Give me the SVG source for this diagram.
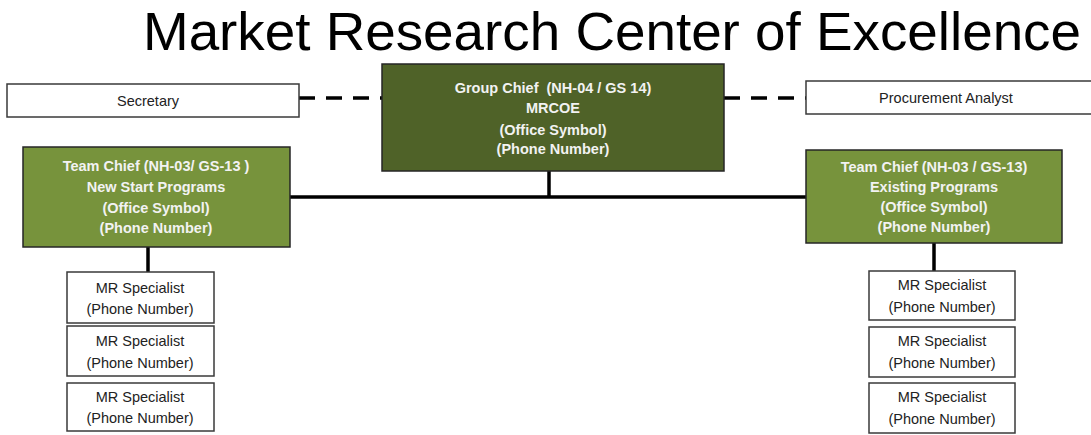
<svg xmlns="http://www.w3.org/2000/svg" width="1091" height="435" viewBox="0 0 1091 435">
<style>
.bg{fill:#ffffff}
.title{font-family:"Liberation Sans",Arial,sans-serif;font-size:53px;fill:#000000}
.wbox{fill:#ffffff;stroke:#3a3a3a;stroke-width:1.5}
.gchief{fill:#4f6228;stroke:#262626;stroke-width:1.5}
.tchief{fill:#77933c;stroke:#262626;stroke-width:1.5}
.bt{font-family:"Liberation Sans",Arial,sans-serif;font-size:14.5px;font-weight:bold;fill:#f2f2f2;text-anchor:middle;white-space:pre}
.nt{font-family:"Liberation Sans",Arial,sans-serif;font-size:14.5px;fill:#222222;text-anchor:middle}
.solid{stroke:#000000;stroke-width:3.5;fill:none}
.dash{stroke:#000000;stroke-width:3.5;fill:none;stroke-dasharray:16,11}
</style>
<rect class="bg" x="0" y="0" width="1091" height="435"/>
<text class="title" x="143" y="50" textLength="938" lengthAdjust="spacingAndGlyphs">Market Research Center of Excellence</text>
<g id="connectors">
<line class="dash" x1="299" y1="98" x2="382" y2="98"/>
<line class="dash" x1="724" y1="98" x2="806" y2="98"/>
<line class="solid" x1="549" y1="171" x2="549" y2="197"/>
<line class="solid" x1="290" y1="197" x2="806" y2="197"/>
<line class="solid" x1="148" y1="247" x2="148" y2="272"/>
<line class="solid" x1="934" y1="243" x2="934" y2="271"/>
</g>
<g id="secretary">
<rect class="wbox" x="7" y="84" width="292" height="33"/>
<text class="nt" x="148" y="106">Secretary</text>
</g>
<g id="procurement">
<rect class="wbox" x="806" y="81" width="300" height="33"/>
<text class="nt" x="946" y="103">Procurement Analyst</text>
</g>
<g id="group-chief">
<rect class="gchief" x="382" y="64" width="342" height="107"/>
<text class="bt" x="553" y="93" xml:space="preserve">Group Chief  (NH-04 / GS 14)</text>
<text class="bt" x="553" y="113">MRCOE</text>
<text class="bt" x="553" y="135">(Office Symbol)</text>
<text class="bt" x="553" y="154">(Phone Number)</text>
</g>
<g id="team-chief-new">
<rect class="tchief" x="23" y="147" width="267" height="100"/>
<text class="bt" x="156" y="171">Team Chief (NH-03/ GS-13 )</text>
<text class="bt" x="156" y="192">New Start Programs</text>
<text class="bt" x="156" y="213">(Office Symbol)</text>
<text class="bt" x="156" y="233">(Phone Number)</text>
</g>
<g id="team-chief-existing">
<rect class="tchief" x="806" y="150" width="256" height="93"/>
<text class="bt" x="934" y="172">Team Chief (NH-03 / GS-13)</text>
<text class="bt" x="934" y="192">Existing Programs</text>
<text class="bt" x="934" y="212">(Office Symbol)</text>
<text class="bt" x="934" y="232">(Phone Number)</text>
</g>
<g id="mr-left-1">
<rect class="wbox" x="67" y="272" width="147" height="51"/>
<text class="nt" x="140" y="293">MR Specialist</text>
<text class="nt" x="140" y="314">(Phone Number)</text>
</g>
<g id="mr-left-2">
<rect class="wbox" x="67" y="326" width="147" height="50"/>
<text class="nt" x="140" y="346">MR Specialist</text>
<text class="nt" x="140" y="368">(Phone Number)</text>
</g>
<g id="mr-left-3">
<rect class="wbox" x="67" y="383" width="147" height="48"/>
<text class="nt" x="140" y="402">MR Specialist</text>
<text class="nt" x="140" y="423">(Phone Number)</text>
</g>
<g id="mr-right-1">
<rect class="wbox" x="869" y="271" width="146" height="49"/>
<text class="nt" x="942" y="290">MR Specialist</text>
<text class="nt" x="942" y="312">(Phone Number)</text>
</g>
<g id="mr-right-2">
<rect class="wbox" x="869" y="327" width="146" height="50"/>
<text class="nt" x="942" y="346">MR Specialist</text>
<text class="nt" x="942" y="368">(Phone Number)</text>
</g>
<g id="mr-right-3">
<rect class="wbox" x="869" y="383" width="146" height="50"/>
<text class="nt" x="942" y="402">MR Specialist</text>
<text class="nt" x="942" y="424">(Phone Number)</text>
</g>
</svg>
